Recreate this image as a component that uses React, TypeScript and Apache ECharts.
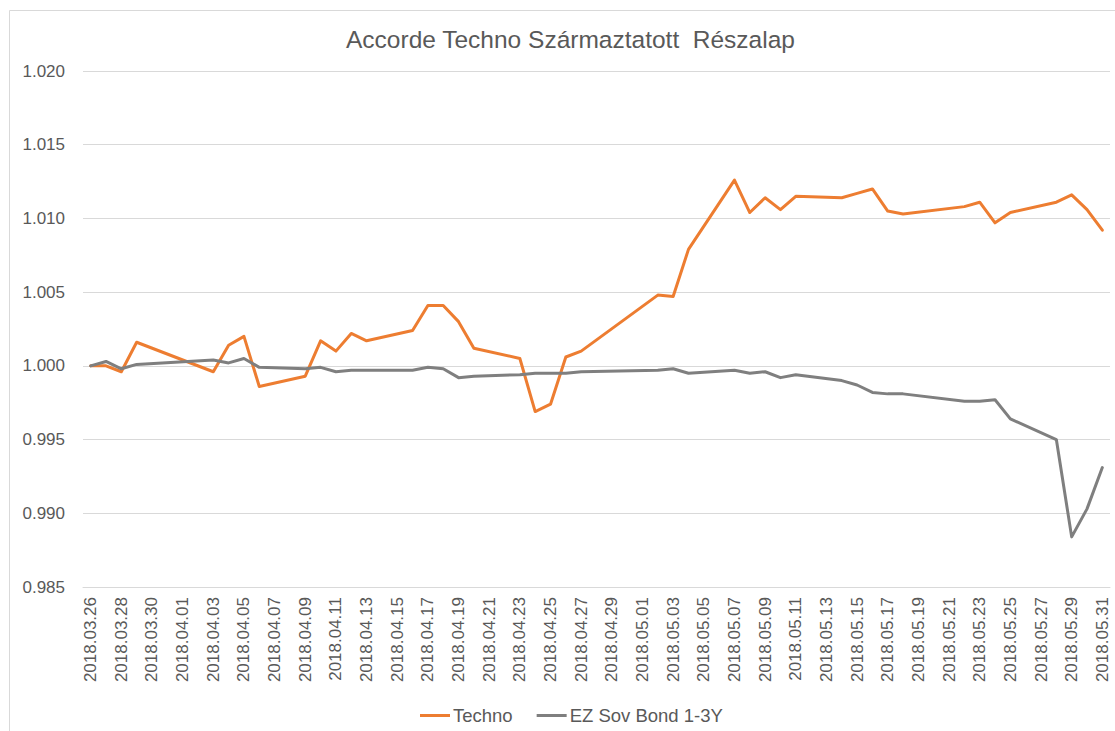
import React, { useEffect, useRef } from "react";
import * as echarts from "echarts";

const titleText = "Accorde Techno Származtatott  Részalap";

const dates = [
  "2018.03.26", "2018.03.27", "2018.03.28", "2018.03.29", "2018.03.30", "2018.03.31",
  "2018.04.01", "2018.04.02", "2018.04.03", "2018.04.04", "2018.04.05", "2018.04.06",
  "2018.04.07", "2018.04.08", "2018.04.09", "2018.04.10", "2018.04.11", "2018.04.12",
  "2018.04.13", "2018.04.14", "2018.04.15", "2018.04.16", "2018.04.17", "2018.04.18",
  "2018.04.19", "2018.04.20", "2018.04.21", "2018.04.22", "2018.04.23", "2018.04.24",
  "2018.04.25", "2018.04.26", "2018.04.27", "2018.04.28", "2018.04.29", "2018.04.30",
  "2018.05.01", "2018.05.02", "2018.05.03", "2018.05.04", "2018.05.05", "2018.05.06",
  "2018.05.07", "2018.05.08", "2018.05.09", "2018.05.10", "2018.05.11", "2018.05.12",
  "2018.05.13", "2018.05.14", "2018.05.15", "2018.05.16", "2018.05.17", "2018.05.18",
  "2018.05.19", "2018.05.20", "2018.05.21", "2018.05.22", "2018.05.23", "2018.05.24",
  "2018.05.25", "2018.05.26", "2018.05.27", "2018.05.28", "2018.05.29", "2018.05.30",
  "2018.05.31",
];

const techno = [
  1.0000, 1.0000, 0.9996, 1.0016, null, null,
  null, null, 0.9996, 1.0014, 1.0020, 0.9986,
  null, null, 0.9993, 1.0017, 1.0010, 1.0022,
  1.0017, null, null, 1.0024, 1.0041, 1.0041,
  1.0030, 1.0012, null, null, 1.0005, 0.9969,
  0.9974, 1.0006, 1.0010, null, null, null,
  null, 1.0048, 1.0047, 1.0079, null, null,
  1.0126, 1.0104, 1.0114, 1.0106, 1.0115, null,
  null, 1.0114, 1.0117, 1.0120, 1.0105, 1.0103,
  null, null, null, 1.0108, 1.0111, 1.0097,
  1.0104, null, null, 1.0111, 1.0116, 1.0106,
  1.0092,
];

const bond = [
  1.0000, 1.0003, 0.9998, 1.0001, null, null,
  null, null, 1.0004, 1.0002, 1.0005, 0.9999,
  null, null, 0.9998, 0.9999, 0.9996, 0.9997,
  0.9997, null, null, 0.9997, 0.9999, 0.9998,
  0.9992, 0.9993, null, null, 0.9994, 0.9995,
  0.9995, 0.9995, 0.9996, null, null, null,
  null, 0.9997, 0.9998, 0.9995, null, null,
  0.9997, 0.9995, 0.9996, 0.9992, 0.9994, null,
  null, 0.9990, 0.9987, 0.9982, 0.9981, 0.9981,
  null, null, null, 0.9976, 0.9976, 0.9977,
  0.9964, null, null, 0.9950, 0.9884, 0.9903,
  0.9931,
];

const seriesNames = ["Techno", "EZ Sov Bond 1-3Y"];

export default function App() {
  const ref = useRef<HTMLDivElement>(null);
  useEffect(() => {
    if (!ref.current) return;
    const chart = echarts.init(ref.current, null, { renderer: "svg" });
    const font = "'Liberation Sans', Arial, Helvetica, sans-serif";
    const textColor = "#595959";
    chart.setOption({
      animation: false,
      backgroundColor: "#ffffff",
      textStyle: { fontFamily: font },
      title: {
        text: titleText,
        left: 341,
        top: 22,
        textStyle: { fontFamily: font, fontSize: 24.5, fontWeight: "normal", color: textColor },
      },
      graphic: [
        {
          type: "rect",
          shape: { x: 9.5, y: 10.5, width: 1120, height: 730 },
          style: { fill: "none", stroke: "#d9d9d9", lineWidth: 1 },
          silent: true,
          z: -1,
        },
      ],
      legend: {
        bottom: 1,
        left: 415,
        icon: "rect",
        itemWidth: 30,
        itemHeight: 3,
        itemGap: 24,
        textStyle: { fontFamily: font, fontSize: 18.5, color: textColor, padding: [0, 0, 0, -2] },
        data: seriesNames,
      },
      grid: { left: 83, right: 5, top: 71, bottom: 144, containLabel: false },
      xAxis: {
        type: "category",
        data: dates,
        boundaryGap: true,
        axisLine: { show: true, lineStyle: { color: "#d9d9d9", width: 1 } },
        axisTick: { show: false },
        axisLabel: {
          rotate: 90,
          interval: 1,
          margin: 10,
          fontFamily: font,
          fontSize: 17,
          color: textColor,
        },
      },
      yAxis: {
        type: "value",
        min: 0.985,
        max: 1.02,
        interval: 0.005,
        axisLine: { show: false },
        axisTick: { show: false },
        splitLine: { lineStyle: { color: "#d9d9d9", width: 1 } },
        axisLabel: {
          margin: 18,
          fontFamily: font,
          fontSize: 17,
          color: textColor,
          formatter: (v: number) => v.toFixed(3),
        },
      },
      series: [
        {
          name: seriesNames[0],
          type: "line",
          data: techno,
          connectNulls: true,
          showSymbol: false,
          symbol: "none",
          lineStyle: { color: "#ED7D31", width: 3, join: "round", cap: "round" },
          itemStyle: { color: "#ED7D31" },
          z: 2,
        },
        {
          name: seriesNames[1],
          type: "line",
          data: bond,
          connectNulls: true,
          showSymbol: false,
          symbol: "none",
          lineStyle: { color: "#7F7F7F", width: 3, join: "round", cap: "round" },
          itemStyle: { color: "#7F7F7F" },
          z: 3,
        },
      ],
    });
    return () => chart.dispose();
  }, []);
  return (
    <div
      ref={ref}
      style={{ position: "fixed", left: 0, top: 0, width: 1115, height: 731, background: "#fff" }}
    />
  );
}
